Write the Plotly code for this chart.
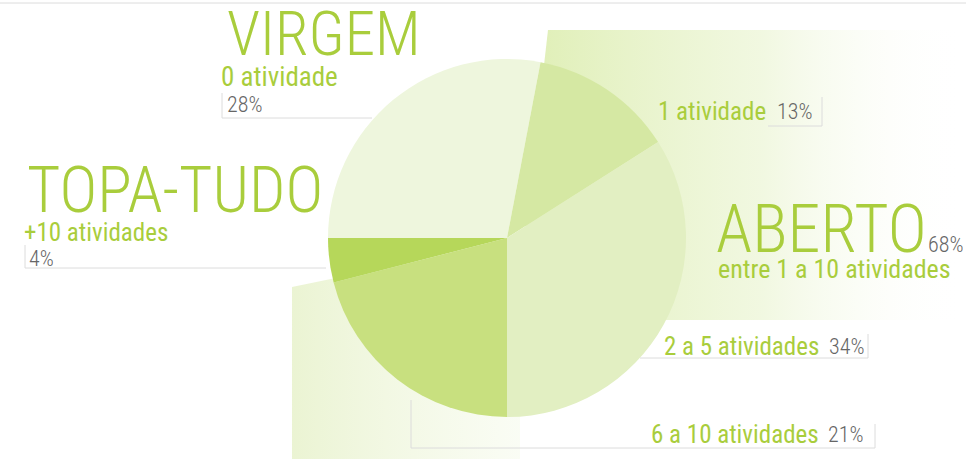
import plotly.graph_objects as go

W, H = 966, 459

labels = ["0 atividade", "1 atividade", "2 a 5 atividades", "6 a 10 atividades", "+10 atividades"]
values = [28, 13, 34, 21, 4]
slice_colors = ["#eef6dd", "#d5e8a3", "#e2efc2", "#c8e07f", "#b6d75a"]

groups = ["VIRGEM", "ABERTO", "TOPA-TUDO"]
group_pct = ["28%", "68%", "4%"]
group_desc = ["0 atividade", "entre 1 a 10 atividades", "+10 atividades"]

GREEN = "#a9cd3c"
GRAY = "#666666"
FONT = "Roboto Condensed, Roboto, sans-serif"

fig = go.Figure()

# decorative background panels (gradient fills)
fig.add_trace(go.Scatter(
    x=[548, 966, 966, 515, 548], y=[30, 30, 320, 320, 30],
    mode="lines", line=dict(width=0), fill="toself",
    fillgradient=dict(type="horizontal",
                      colorscale=[[0, "rgba(214,234,160,0.8)"], [0.55, "rgba(232,243,205,0.6)"], [1, "rgba(255,255,255,0)"]]),
    hoverinfo="skip", showlegend=False))
fig.add_trace(go.Scatter(
    x=[292, 520, 520, 292, 292], y=[287, 240, 459, 459, 287],
    mode="lines", line=dict(width=0), fill="toself",
    fillgradient=dict(type="horizontal",
                      colorscale=[[0, "rgba(228,240,196,0.75)"], [1, "rgba(245,250,234,0.5)"]]),
    hoverinfo="skip", showlegend=False))

fig.add_trace(go.Pie(
    labels=labels, values=values, sort=False, direction="clockwise",
    rotation=-90, marker=dict(colors=slice_colors, line=dict(width=0)),
    textinfo="none", hoverinfo="label+percent", showlegend=False,
    domain=dict(x=[(507 - 179) / W, (507 + 179) / W],
                y=[(H - 238 - 179) / H, (H - 238 + 179) / H])))

ann = []
def txt(x, y, s, size, color, anchor="left", weight=400):
    ann.append(dict(x=x, y=y, xref="x", yref="y", text=s, showarrow=False,
                    xanchor=anchor, yanchor="middle", height=round(size * 0.8),
                    valign="middle",
                    font=dict(family=FONT, size=size, color=color, weight=weight)))

# VIRGEM
txt(225, 33, groups[0], 61, GREEN, weight=300)
txt(219, 77, group_desc[0], 27, GREEN)
txt(225, 104, group_pct[0], 22, GRAY, weight=300)
# TOPA-TUDO
txt(25, 190, groups[2], 64, GREEN, weight=300)
txt(22, 232, group_desc[2], 25, GREEN)
txt(27, 258, group_pct[2], 22, GRAY, weight=300)
# ABERTO
txt(714, 229, groups[1], 66, GREEN, weight=300)
txt(926, 244, group_pct[1], 22, GRAY, weight=300)
txt(716, 268, group_desc[1], 26, GREEN)
# slices of ABERTO
txt(768, 111, labels[1], 25, GREEN, "right")
txt(775, 111, f"{values[1]}%", 22, GRAY, weight=300)
txt(821, 346, labels[2], 25, GREEN, "right")
txt(827, 346, f"{values[2]}%", 22, GRAY, weight=300)
txt(821, 434, labels[3], 25, GREEN, "right")
txt(826, 434, f"{values[3]}%", 22, GRAY, weight=300)

LC = "#dcdcdc"
shapes = []
def seg(x0, y0, x1, y1):
    shapes.append(dict(type="line", xref="x", yref="y", x0=x0, y0=y0, x1=x1, y1=y1,
                       line=dict(color=LC, width=1)))
seg(222, 93, 222, 118); seg(222, 118, 372, 118)
seg(25, 245, 25, 268); seg(25, 268, 326, 268)
seg(822, 97, 822, 126); seg(768, 126, 822, 126)
seg(868, 334, 868, 358); seg(640, 358, 868, 358)
seg(411, 400, 411, 448); seg(411, 448, 875, 448); seg(875, 424, 875, 448)
seg(0, 3, 966, 3)

fig.update_layout(
    width=W, height=H, margin=dict(l=0, r=0, t=0, b=0),
    paper_bgcolor="white", plot_bgcolor="white",
    xaxis=dict(range=[0, W], visible=False, fixedrange=True),
    yaxis=dict(range=[H, 0], visible=False, fixedrange=True),
    annotations=ann, shapes=shapes)

fig.write_html("out.html", config={"displayModeBar": False},
               post_script="document.body.style.margin='0';document.body.style.overflow='hidden';")
